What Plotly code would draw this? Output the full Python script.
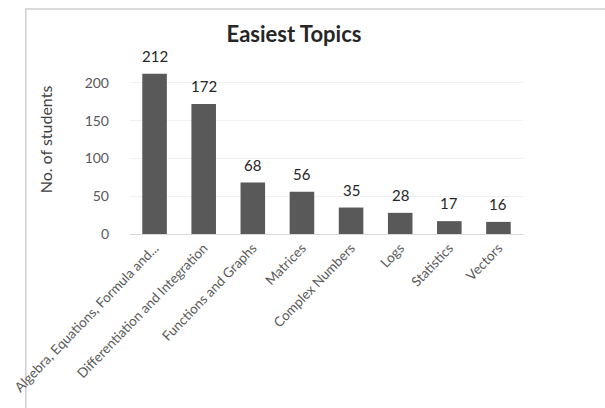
import plotly.graph_objects as go

topics = [
    "Algebra, Equations, Formula and...",
    "Differentiation and Integration",
    "Functions and Graphs",
    "Matrices",
    "Complex Numbers",
    "Logs",
    "Statistics",
    "Vectors",
]
students = [212, 172, 68, 56, 35, 28, 17, 16]
y_ticks = [0, 50, 100, 150, 200]

FONT = "Lato"
GREY = "#595959"

fig = go.Figure(
    go.Bar(
        x=topics,
        y=students,
        marker=dict(color=GREY, line=dict(width=0)),
        width=0.5,
        cliponaxis=False,
    )
)

# value labels sitting above each bar
for topic, value in zip(topics, students):
    fig.add_annotation(
        x=topic, y=value, text=str(value),
        showarrow=False, yanchor="bottom", yshift=7,
        font=dict(family=FONT, size=15, color="#262626"),
    )

# outer chart frame
fig.add_shape(
    type="rect", xref="paper", yref="paper",
    x0=-0.265, x1=1.4, y0=-1.1, y1=1.19,
    line=dict(color="#d0d0d0", width=1.5), layer="below",
)

fig.update_layout(
    width=605,
    height=408,
    margin=dict(l=115, r=82, t=45, b=174),
    paper_bgcolor="white",
    plot_bgcolor="white",
    showlegend=False,
    title=dict(
        text="<b>Easiest Topics</b>",
        x=294 / 605, xanchor="center",
        y=1 - 34 / 408, yanchor="middle",
        font=dict(family=FONT, size=22, color="#262626"),
    ),
    xaxis=dict(
        tickangle=-46,
        tickfont=dict(family=FONT, size=13.5, color=GREY),
        showline=True, linecolor="#d9d9d9", linewidth=1,
        ticks="", showgrid=False,
    ),
    yaxis=dict(
        range=[0, 250],
        tickvals=y_ticks,
        tickfont=dict(family=FONT, size=14, color=GREY),
        showgrid=True, gridcolor="#f0f0f0", gridwidth=1,
        zeroline=False, showline=False, ticks="",
        ticklabelstandoff=20,
        title=dict(text="No. of students",
                   font=dict(family=FONT, size=16, color="#404040"),
                   standoff=28),
    ),
)

fig.write_html("out.html")
